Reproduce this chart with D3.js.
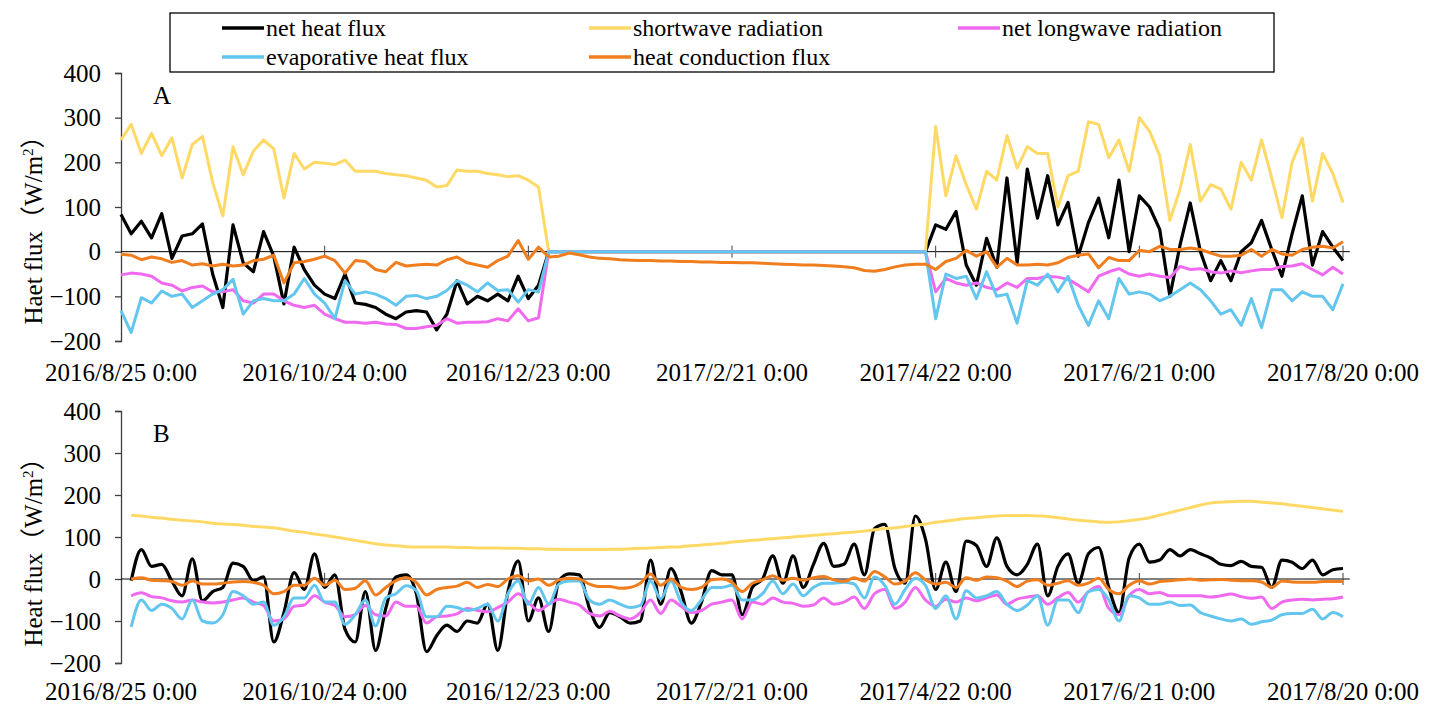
<!DOCTYPE html>
<html>
<head>
<meta charset="utf-8">
<script src="https://cdn.jsdelivr.net/npm/d3@7"></script>
<style>
  body { margin: 0; background: #fff; }
  text { font-family: "Liberation Serif", "Times New Roman", "Noto Sans CJK SC", serif; fill: #000; }
</style>
</head>
<body>
<svg id="chart" width="1437" height="705"></svg>
<script>
// DATA: one value every 3 days, starting 2016/8/25 (day 0) to day 360
const days = d3.range(0, 361, 3);
const tickDays = [0, 60, 120, 180, 240, 300, 360];
const tickLabels = ["2016/8/25 0:00", "2016/10/24 0:00", "2016/12/23 0:00", "2017/2/21 0:00",
                    "2017/4/22 0:00", "2017/6/21 0:00", "2017/8/20 0:00"];
const yTicks = [-200, -100, 0, 100, 200, 300, 400];
const seriesNames = ["net heat flux", "shortwave radiation", "net longwave radiation",
                     "evaporative heat flux", "heat conduction flux"];
const seriesColors = ["#000000", "#FFD966", "#F06AF0", "#62C6EE", "#F07D1E"];

// Panel A
const netHeatA = [83, 40, 68, 31, 85, -15, 35, 40, 62, -50,
  -125, 60, -25, -45, 45, -10, -117, 10, -40, -75,
  -95, -105, -50, -115, -118, -125, -140, -150, -135, -132,
  -135, -175, -140, -65, -117, -100, -110, -95, -110, -55,
  -105, -75, 0, 0, 0, 0, 0, 0, 0, 0,
  0, 0, 0, 0, 0, 0, 0, 0, 0, 0,
  0, 0, 0, 0, 0, 0, 0, 0, 0, 0,
  0, 0, 0, 0, 0, 0, 0, 0, 0, 0,
  60, 50, 90, -30, -75, 30, -35, 165, -25, 185,
  75, 170, 60, 110, -10, 65, 120, 31, 160, 0,
  125, 100, 50, -100, 15, 109, 0, -65, -20, -65,
  0, 20, 70, 5, -55, 40, 125, -30, 45, 10, -20];
const shortwaveA = [250, 285, 220, 265, 215, 255, 165, 240, 258, 155,
  80, 235, 172, 225, 250, 230, 120, 220, 185, 200,
  198, 195, 205, 180, 180, 180, 175, 172, 170, 165,
  160, 145, 148, 183, 180, 180, 175, 172, 168, 170,
  160, 145, 0, 0, 0, 0, 0, 0, 0, 0,
  0, 0, 0, 0, 0, 0, 0, 0, 0, 0,
  0, 0, 0, 0, 0, 0, 0, 0, 0, 0,
  0, 0, 0, 0, 0, 0, 0, 0, 0, 0,
  280, 125, 215, 150, 95, 180, 160, 260, 187, 235,
  220, 220, 100, 170, 180, 291, 285, 210, 250, 180,
  300, 270, 215, 70, 140, 240, 113, 150, 140, 95,
  200, 160, 250, 165, 76, 200, 254, 113, 220, 175, 110];
const longwaveA = [-52, -48, -50, -55, -70, -75, -88, -80, -77, -90,
  -90, -85, -110, -115, -95, -95, -110, -120, -125, -120,
  -140, -150, -158, -158, -160, -158, -162, -163, -172, -172,
  -168, -165, -150, -160, -158, -158, -157, -150, -155, -128,
  -155, -148, 0, 0, 0, 0, 0, 0, 0, 0,
  0, 0, 0, 0, 0, 0, 0, 0, 0, 0,
  0, 0, 0, 0, 0, 0, 0, 0, 0, 0,
  0, 0, 0, 0, 0, 0, 0, 0, 0, 0,
  -90, -60, -70, -75, -70, -80, -85, -70, -80, -60,
  -60, -55, -57, -62, -75, -90, -55, -45, -38, -50,
  -55, -50, -55, -58, -33, -40, -38, -45, -48, -43,
  -47, -43, -40, -40, -33, -32, -27, -40, -52, -35, -50];
const evapA = [-132, -181, -103, -115, -88, -100, -95, -125, -110, -95,
  -85, -62, -140, -110, -105, -110, -110, -95, -60, -95,
  -115, -150, -65, -95, -90, -95, -105, -120, -100, -98,
  -105, -100, -87, -65, -75, -90, -70, -87, -85, -113,
  -85, -90, 0, 0, 0, 0, 0, 0, 0, 0,
  0, 0, 0, 0, 0, 0, 0, 0, 0, 0,
  0, 0, 0, 0, 0, 0, 0, 0, 0, 0,
  0, 0, 0, 0, 0, 0, 0, 0, 0, 0,
  -150, -50, -60, -55, -105, -45, -100, -95, -160, -65,
  -75, -50, -90, -55, -120, -165, -110, -150, -60, -95,
  -90, -95, -110, -100, -85, -70, -85, -110, -140, -130,
  -165, -105, -170, -85, -85, -110, -90, -100, -100, -130, -72];
const conductionA = [-6, -8, -18, -12, -16, -24, -20, -30, -27, -32,
  -28, -32, -30, -20, -17, -8, -70, -25, -22, -17,
  -10, -20, -48, -20, -22, -40, -45, -24, -32, -30,
  -28, -30, -18, -12, -25, -30, -35, -20, -10, 25,
  -17, 10, -12, -10, -3, -7, -12, -15, -16, -18,
  -19, -20, -20, -21, -21, -22, -22, -23, -23, -24,
  -24, -25, -25, -26, -27, -28, -29, -30, -30, -31,
  -32, -34, -36, -42, -44, -40, -34, -30, -28, -28,
  -40, -22, -15, 3, -10, 0, -35, -15, -30, -30,
  -28, -30, -25, -13, -8, -5, -36, -13, -20, -20,
  3, 0, 12, 5, 5, 8, 5, -3, -10, -10,
  -8, 5, -10, 5, -5, -8, 5, 10, 12, 8, 22];

// Panel B (no value on day 0)
const netHeatB = [null, -4, 70, 30, 35, -5, -40, 48, -52, -30,
  -20, 38, 30, -4, 5, -150, -80, 15, -25, 60,
  -20, 10, -120, -150, -30, -170, -70, 5, 10, -35,
  -173, -135, -110, -125, -100, -105, -60, -170, -30, 43,
  -100, -45, -125, -5, 12, 10, -70, -115, -80, -90,
  -105, -100, 45, -60, 25, -30, -105, -55, 20, 10,
  10, -85, -20, 0, 55, -10, 55, -20, 35, 85,
  30, 35, 83, 10, 120, 130, 25, -10, 150, 95,
  -25, 40, -30, 90, 80, 30, 98, 30, 10, 35,
  83, -40, 30, 60, -10, 60, 75, -20, -80, 50,
  83, 40, 45, 70, 55, 70, 60, 50, 35, 32,
  42, 30, 28, -20, 45, 40, 25, 45, 10, 22, 25];
const shortwaveB = [null, 152, 150, 147, 145, 142, 140, 138, 136, 133,
  131, 130, 128, 125, 124, 122, 118, 114, 111, 107,
  104, 100, 96, 92, 88, 84, 81, 79, 77, 76,
  76, 76, 76, 75, 75, 74, 74, 74, 73, 73,
  72, 72, 71, 71, 70, 70, 70, 70, 71, 71,
  72, 73, 74, 75, 76, 77, 79, 81, 83, 85,
  88, 90, 92, 94, 96, 98, 100, 102, 104, 106,
  108, 110, 112, 114, 117, 120, 122, 125, 128, 131,
  135, 138, 141, 144, 146, 148, 150, 151, 151, 151,
  150, 149, 146, 143, 140, 138, 136, 135, 136, 139,
  142, 146, 152, 158, 164, 170, 176, 181, 183, 184,
  185, 185, 183, 181, 179, 176, 173, 170, 167, 164, 161];
const longwaveB = [null, -40, -33, -42, -45, -52, -55, -50, -55, -57,
  -55, -50, -45, -55, -63, -100, -95, -65, -62, -40,
  -55, -63, -90, -85, -63, -85, -88, -55, -65, -65,
  -105, -90, -88, -83, -70, -75, -78, -68, -55, -35,
  -55, -75, -60, -48, -55, -62, -82, -88, -77, -88,
  -95, -80, -50, -82, -50, -65, -80, -75, -60, -55,
  -50, -95, -55, -60, -45, -55, -58, -65, -62, -45,
  -60, -55, -43, -70, -35, -25, -70, -55, -20, -50,
  -65, -48, -55, -45, -52, -45, -38, -60, -48, -43,
  -40, -60, -45, -32, -55, -30, -18, -70, -85, -40,
  -25, -35, -32, -40, -40, -40, -40, -43, -40, -36,
  -42, -46, -43, -70, -55, -50, -48, -50, -48, -47, -43];
const evapB = [null, -114, -50, -75, -60, -70, -95, -50, -100, -105,
  -85, -30, -40, -60, -55, -110, -90, -45, -45, -15,
  -55, -55, -108, -85, -50, -112, -45, -35, -16, -28,
  -90, -90, -65, -68, -75, -70, -60, -100, -35, -5,
  -60, -20, -60, -12, -5, -5, -50, -60, -50, -60,
  -68, -63, -5, -47, -5, -55, -75, -50, -20, -20,
  -15, -50, -50, -35, -5, -35, -12, -40, -20, -10,
  -10, -8, -12, -45, 5, -15, -60, -25, 2, -15,
  -70, -40, -95, -28, -45, -40, -30, -60, -75, -62,
  -40, -110, -50, -50, -80, -30, -25, -50, -100, -40,
  -45, -60, -60, -55, -63, -62, -80, -88, -95, -100,
  -95, -108, -102, -98, -85, -82, -82, -72, -95, -80, -90];
const conductionB = [null, 0, 3, -3, -4, -6, -15, -5, -12, -12,
  -10, -7, -6, -8, -15, -35, -30, -15, -15, 2,
  -15, -3, -25, -22, -4, -38, -20, -4, 3, -8,
  -38, -25, -20, -17, -8, -20, -13, -18, 0, 8,
  -5, 0, -15, -2, 2, 0, -12, -18, -18, -22,
  -20, -10, 12, -15, 0, -20, -25, -20, -2, 0,
  -8, -30, -10, -2, 8, -3, 2, -3, 3, 6,
  -2, -6, 3, -5, 18, 5, -12, -5, 15, -2,
  -12, -8, -20, 3, -3, 5, 3, -5, -18, -5,
  -2, -15, -10, -4, -15, -10, 2, -25, -35, -15,
  -4, -12, -6, -4, -2, 0, -3, -2, -1, -3,
  -4, -4, -7, -20, -5, -7, -8, -8, -6, -6, -6];

// SETUP
const svg = d3.select("#chart");
const left = 121;

const x = d3.scaleLinear()
    .domain([0, 360])
    .range([left, 1343]);

const panels = [
    { letter: "A", label: "Haet flux", top: 73, bottom: 341, labelY: 224, tickY: 381,
      series: [netHeatA, shortwaveA, longwaveA, evapA, conductionA], curve: d3.curveLinear },
    { letter: "B", label: "Heat flux", top: 411, bottom: 663, labelY: 546, tickY: 700,
      series: [netHeatB, shortwaveB, longwaveB, evapB, conductionB], curve: d3.curveMonotoneX }
];

panels.forEach(p => {
    const y = d3.scaleLinear()
        .domain([-200, 400])
        .range([p.bottom, p.top]);

    const g = svg.append("g");

    // 1: y axis
    const yAxis = g.append("g")
        .attr("transform", `translate(${left},0)`)
        .call(d3.axisLeft(y).tickValues(yTicks).tickSize(6).tickPadding(14));
    yAxis.select(".domain").attr("stroke", "#404040").attr("stroke-width", 1.3);
    yAxis.selectAll(".tick line").attr("stroke", "#404040").attr("stroke-width", 1.3);
    yAxis.selectAll("text").style("font-size", "25px").attr("fill", "#000");

    // 2: zero line with crossing ticks
    g.append("line")
        .attr("x1", left).attr("x2", x(362))
        .attr("y1", y(0)).attr("y2", y(0))
        .attr("stroke", "#000").attr("stroke-width", 1);
    g.selectAll(".xtick")
        .data(tickDays.slice(1))
        .enter()
        .append("line")
        .attr("x1", d => x(d)).attr("x2", d => x(d))
        .attr("y1", y(0) - 6).attr("y2", y(0) + 6)
        .attr("stroke", "#404040").attr("stroke-width", 1);

    // 3: date labels at the bottom
    g.selectAll(".xlabel")
        .data(tickDays)
        .enter()
        .append("text")
        .attr("x", d => x(d))
        .attr("y", p.tickY)
        .attr("text-anchor", "middle")
        .style("font-size", "25px")
        .text((d, i) => tickLabels[i]);

    // 4: lines
    const line = d3.line()
        .defined(d => d.v != null)
        .x(d => x(d.day))
        .y(d => y(d.v))
        .curve(p.curve);

    p.series.forEach((vals, i) => {
        g.append("path")
            .datum(days.map((day, k) => ({ day: day, v: vals[k] })))
            .attr("d", line)
            .attr("fill", "none")
            .attr("stroke", seriesColors[i])
            .attr("stroke-width", i === 0 ? 3.2 : 3)
            .attr("stroke-linejoin", "round");
    });

    // 5: panel letter
    g.append("text")
        .attr("x", 153)
        .attr("y", p.top + 31)
        .style("font-size", "25px")
        .text(p.letter);

    // 6: y label
    const yl = g.append("text")
        .attr("transform", `translate(42,${p.labelY}) rotate(-90)`)
        .attr("text-anchor", "middle")
        .style("font-size", "25px");
    yl.append("tspan").text(p.label + "（W/m");
    yl.append("tspan").attr("dy", -9).style("font-size", "15px").text("2");
    yl.append("tspan").attr("dy", 9).text("）");
});

// 7: legend
svg.append("rect")
    .attr("x", 170).attr("y", 13)
    .attr("width", 1104).attr("height", 59)
    .attr("fill", "#fff")
    .attr("stroke", "#000")
    .attr("stroke-width", 1.3);

const legendPos = [[222, 28], [589, 28], [958, 28], [222, 57], [589, 57]];
seriesNames.forEach((name, i) => {
    const [lx, ly] = legendPos[i];
    svg.append("line")
        .attr("x1", lx).attr("x2", lx + 42)
        .attr("y1", ly).attr("y2", ly)
        .attr("stroke", seriesColors[i])
        .attr("stroke-width", 3.5);
    svg.append("text")
        .attr("x", lx + 44)
        .attr("y", ly + 8)
        .style("font-size", "24px")
        .text(name);
});
</script>
</body>
</html>
